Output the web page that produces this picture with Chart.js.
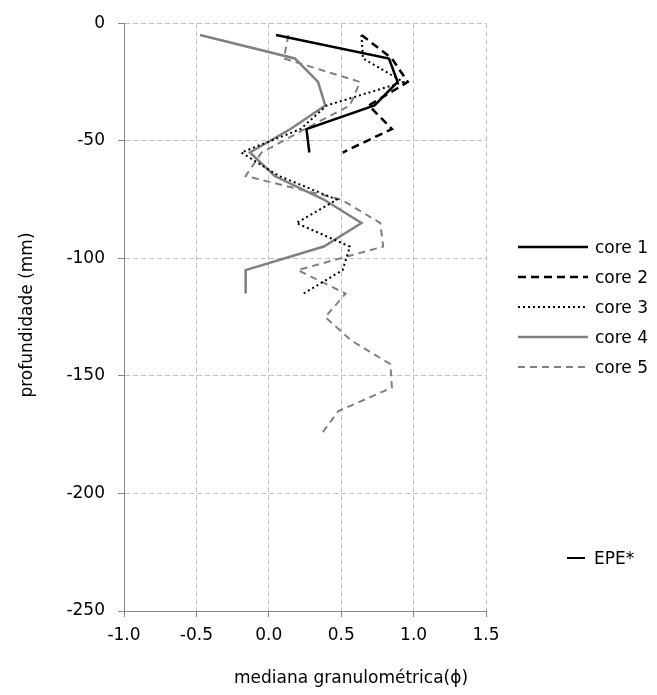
<!DOCTYPE html>
<html><head><meta charset="utf-8">
<script src="https://cdn.jsdelivr.net/npm/chart.js@4/dist/chart.umd.min.js"></script>
<style>
html,body{margin:0;padding:0;background:#fff;}
#wrap{position:relative;width:657px;height:695px;overflow:hidden;}
#c{position:absolute;left:0;top:0;}
.leg{position:absolute;left:518px;height:20px;font-family:"DejaVu Sans",Verdana,sans-serif;font-size:17px;color:#000;display:flex;align-items:center;white-space:nowrap;}
.leg svg{display:block;margin-right:7px;}
</style></head><body>
<div id="wrap"><canvas id="c" width="657" height="695"></canvas><div id="legend"></div></div>
<script>
// depths (mm) of samples
const depths = [-5,-15,-25,-35,-45,-55,-65,-75,-85,-95,-105,-115,-125,-135,-145,-155,-165,-175];
// median grain size (phi) per core
const core1 = [0.05, 0.83, 0.89, 0.73, 0.26, 0.28];
const core2 = [0.64, 0.85, 0.96, 0.69, 0.85, 0.51];
const core3 = [0.64, 0.65, 0.93, 0.40, 0.22, -0.19, 0.07, 0.47, 0.19, 0.56, 0.51, 0.24];
const core4 = [-0.475, 0.18, 0.34, 0.39, 0.15, -0.13, 0.04, 0.38, 0.64, 0.38, -0.16, -0.16];
const core5 = [0.135, 0.105, 0.63, 0.56, 0.25, -0.05, -0.16, 0.50, 0.77, 0.79, 0.20, 0.53, 0.39, 0.57, 0.84, 0.85, 0.48, 0.36];
const seriesNames = ["core 1","core 2","core 3","core 4","core 5"];
const extraLegend = "EPE*";
const xTitle = "mediana granulométrica(\u03D5)";
const yTitle = "profundidade (mm)";

const styles = [
  {color:"#000000", width:2.5, dash:[]},
  {color:"#000000", width:2.5, dash:[8,5]},
  {color:"#000000", width:2, dash:[2,3]},
  {color:"#808080", width:2.5, dash:[]},
  {color:"#808080", width:2, dash:[7,5]}
];
const allCores = [core1, core2, core3, core4, core5];

const datasets = allCores.map((vals, i) => ({
  label: seriesNames[i],
  data: vals.map((v, j) => ({x: v, y: depths[j]})),
  showLine: true,
  borderColor: styles[i].color,
  borderWidth: styles[i].width,
  borderDash: styles[i].dash,
  pointRadius: 0,
  fill: false,
  tension: 0
}));

const FONT = '"DejaVu Sans", Verdana, sans-serif';
const titlePlugin = {
  id: 'titles',
  afterDraw(chart) {
    const ctx = chart.ctx;
    ctx.save();
    ctx.fillStyle = '#000';
    ctx.font = '17px ' + FONT;
    ctx.textAlign = 'center';
    ctx.textBaseline = 'middle';
    ctx.fillText(xTitle, 351, 679);
    ctx.translate(28, 315);
    ctx.rotate(-Math.PI / 2);
    ctx.fillText(yTitle, 0, 0);
    ctx.restore();
  }
};

new Chart(document.getElementById('c'), {
  type: 'scatter',
  data: { datasets },
  plugins: [titlePlugin],
  options: {
    responsive: false,
    animation: false,
    events: [],
    layout: { padding: { left: 0, top: 19, right: 171, bottom: 0 } },
    plugins: { legend: { display: false }, tooltip: { enabled: false } },
    scales: {
      x: {
        type: 'linear', min: -1, max: 1.5,
        afterFit(s) { s.height = 84; },
        ticks: { stepSize: 0.5, color: '#000', font: { family: FONT, size: 17 }, padding: 8,
                 callback: v => Number(v).toFixed(1) },
        grid: { color: '#c0c0c0', lineWidth: 1, tickLength: 6, tickColor: '#868686', tickBorderDash: [] },
        border: { color: '#868686', width: 1, dash: [5, 3] }
      },
      y: {
        type: 'linear', min: -250, max: 0,
        afterFit(s) { s.width = 124; },
        ticks: { stepSize: 50, color: '#000', font: { family: FONT, size: 17 }, padding: 13 },
        grid: { color: '#c0c0c0', lineWidth: 1, tickLength: 6, tickColor: '#868686', tickBorderDash: [] },
        border: { color: '#868686', width: 1, dash: [5, 3] }
      }
    }
  }
});

// legend (HTML)
const legendDiv = document.getElementById('legend');
const legY = [247, 277, 307, 337, 367];
seriesNames.forEach((name, i) => {
  const d = document.createElement('div');
  d.className = 'leg';
  d.style.top = (legY[i] - 10) + 'px';
  const st = styles[i];
  d.innerHTML = '<svg width="70" height="10"><line x1="0" y1="5" x2="70" y2="5" stroke="' + st.color +
    '" stroke-width="' + st.width + '" stroke-dasharray="' + (st.dash.length ? st.dash.join(',') : 'none') + '"/></svg>';
  const t = document.createElement('span');
  t.textContent = name;
  d.appendChild(t);
  legendDiv.appendChild(d);
});
const e = document.createElement('div');
e.className = 'leg';
e.style.left = '567px';
e.style.top = '548px';
e.innerHTML = '<svg width="18" height="10" style="margin-right:9px"><line x1="0" y1="5" x2="18" y2="5" stroke="#000" stroke-width="2"/></svg>';
const et = document.createElement('span');
et.textContent = extraLegend;
e.appendChild(et);
legendDiv.appendChild(e);
</script>
</body></html>
